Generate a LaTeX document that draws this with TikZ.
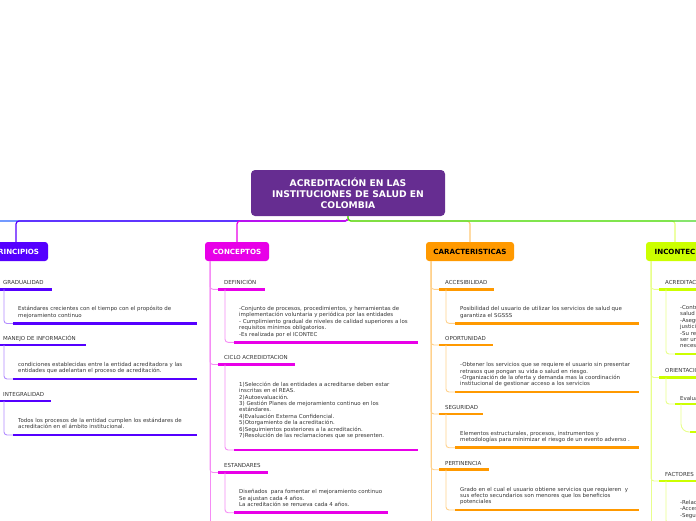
\documentclass[tikz,border=0pt]{standalone}
\usepackage{fontspec}
\setmainfont{DejaVu Sans}
\usetikzlibrary{positioning}

\definecolor{rootpurple}{RGB}{102,45,145}
\definecolor{princol}{RGB}{85,0,255}
\definecolor{concol}{RGB}{232,0,232}
\definecolor{caraccol}{RGB}{255,153,0}
\definecolor{inccol}{RGB}{204,255,0}
\definecolor{maingreen}{RGB}{70,215,30}
\definecolor{mainblue}{RGB}{40,100,255}
\definecolor{txtgray}{RGB}{51,51,51}

\newcommand{\descfont}{\fontsize{5.45}{6.4}\selectfont}

\tikzset{
  root/.style={fill=rootpurple,text=white,rounded corners=4pt,align=center,
    minimum width=194pt,minimum height=46pt,inner sep=0pt,outer sep=0pt,
    font=\fontsize{9.2}{11}\selectfont\bfseries},
  branch/.style={rounded corners=3pt,minimum width=64pt,minimum height=19pt,
    inner sep=0pt,outer sep=0pt,font=\fontsize{7.1}{8}\selectfont\bfseries},
  head/.style={anchor=base west,inner sep=0pt,text=txtgray,
    font=\fontsize{5.5}{6}\selectfont},
  desc/.style={anchor=base west,inner sep=0pt,text=txtgray,align=left,
    font=\descfont},
  bar/.style={line width=2.8pt},
  link/.style={line width=0.9pt,rounded corners=3pt},
  mainlink/.style={line width=1.2pt,rounded corners=3pt},
}

% #1 name, #2 branch node, #3 colour, #4 y of underline, #5 its length, #6 label
\newcommand{\subtopic}[6]{%
  \path (#2.south west) ++(13,0) coordinate (#1-x);
  \coordinate (#1-a) at (#1-x |- 0,#4);
  \draw[link,#3!45!white] ([xshift=5pt]#2.south west) |- (#1-a);
  \draw[bar,#3] (#1-a) -- ++(#5,0);
  \path (#1-a) ++(6,-4.6) node[head] (#1) {#6};
}
% #1 subtopic, #2 colour, #3 y of underline, #4 its length, #5 text
\newcommand{\subdesc}[5]{%
  \path (#1-a) ++(16,0) coordinate (#1-dx);
  \coordinate (#1-b) at (#1-dx |- 0,#3);
  \draw[link,#2!45!white] ([xshift=7pt]#1-a) |- (#1-b);
  \draw[bar,#2] (#1-b) -- ++(#4,0);
  \path (#1-b) ++(5,-6.2) node[desc] (#1-d) {#5};
}

\begin{document}
\begin{tikzpicture}[x=1pt,y=-1pt]
\useasboundingbox (0,0) rectangle (696,520);
\clip (0,0) rectangle (696,520);

% central topic
\node[root] (root) at (348,193) {ACREDITACIÓN EN LAS\\INSTITUCIONES DE SALUD EN\\COLOMBIA};

% main branches
\node[branch,fill=princol,text=white] (princ) at (16,251.5) {PRINCIPIOS};
\node[branch,fill=concol,text=white] (conc) at (237,251.5) {CONCEPTOS};
\node[branch,fill=caraccol,minimum width=88pt] (carac) at (470,251.5) {CARACTERISTICAS};
\node[branch,fill=inccol,minimum width=58pt] (incon) at (675,251.5) {INCONTEC};
\coordinate (offleft) at (-60,242);
\coordinate (offright) at (760,242);

\draw[mainlink,mainblue] (root.south) -- ++(0,5) -| (offleft);
\draw[mainlink,princol] (root.south) -- ++(0,5) -| (princ.north);
\draw[mainlink,concol] (root.south) -- ++(0,5) -| (conc.north);
\draw[mainlink,caraccol!55!white] (root.south) -- ++(0,5) -| (carac.north);
\draw[mainlink,inccol!55!white] (root.south) -- ++(0,5) -| (incon.north);
\draw[mainlink,maingreen] (root.south) -- ++(0,5) -| (offright);

% PRINCIPIOS
\coordinate (princ-end) at (-11,540);
\draw[link,princol!45!white] ([xshift=5pt]princ.south west) -- (princ-end);
\subtopic{grad}{princ}{princol}{289.3}{55}{GRADUALIDAD}
\subdesc{grad}{princol}{323.5}{184}{Estándares crecientes con el tiempo con el propósito de\\mejoramiento continuo}
\subtopic{manejo}{princ}{princol}{345}{89}{MANEJO DE INFORMACIÓN}
\subdesc{manejo}{princol}{379}{184}{condiciones establecidas entre la entidad acreditadora y las\\entidades que adelantan el proceso de acreditación.}
\subtopic{integ}{princ}{princol}{401}{54}{INTEGRALIDAD}
\subdesc{integ}{princol}{435}{184}{Todos los procesos de la entidad cumplen los estándares de\\acreditación en el ámbito institucional.}

% CONCEPTOS
\coordinate (conc-end) at (210,540);
\draw[link,concol!45!white] ([xshift=5pt]conc.south west) -- (conc-end);
\subtopic{def}{conc}{concol}{289.3}{47}{DEFINICIÓN}
\subdesc{def}{concol}{342.3}{184}{-Conjunto de procesos, procedimientos, y herramientas de\\implementación voluntaria y periódica por las entidades\\- Cumplimiento gradual de niveles de calidad superiores a los\\requisitos mínimos obligatorios.\\-Es realizada por el ICONTEC}
\subtopic{ciclo}{conc}{concol}{364.5}{77}{CICLO ACREDIDTACION}
\subdesc{ciclo}{concol}{450}{184}{1)Selección de las entidades a acreditarse deben estar\\inscritas en el REAS.\\2)Autoevaluación.\\3) Gestión Planes de mejoramiento continuo en los\\estándares.\\4)Evaluación Externa Confidencial.\\5)Otorgamiento de la acreditación.\\6)Seguimientos posteriores a la acreditación.\\7)Resolución de las reclamaciones que se presenten.\\\mbox{}}
\subtopic{estand}{conc}{concol}{472.5}{50}{ESTANDARES}
\subdesc{estand}{concol}{512.7}{154}{Diseñados~ para fomentar el mejoramiento continuo\\Se ajustan cada 4 años.\\La acreditación se renueva cada 4 años.}

% CARACTERISTICAS
\coordinate (carac-end) at (431,540);
\draw[link,caraccol!45!white] ([xshift=5pt]carac.south west) -- (carac-end);
\subtopic{acces}{carac}{caraccol}{289.3}{55}{ACCESIBILIDAD}
\subdesc{acces}{caraccol}{323.3}{184}{Posibilidad del usuario de utilizar los servicios de salud que\\garantiza el SGSSS}
\subtopic{oport}{carac}{caraccol}{345}{54}{OPORTUNIDAD}
\subdesc{oport}{caraccol}{392}{184}{-Obtener los servicios que se requiere el usuario sin presentar\\retrasos que pongan su vida o salud en riesgo.\\-Organización de la oferta y demanda mas la coordinación\\institucional de gestionar acceso a los servicios}
\subtopic{segur}{carac}{caraccol}{414}{44}{SEGURIDAD}
\subdesc{segur}{caraccol}{447.7}{184}{Elementos estructurales, procesos, instrumentos y\\metodologías para minimizar el riesgo de un evento adverso .}
\subtopic{pert}{carac}{caraccol}{469.7}{50}{PERTINENCIA}
\subdesc{pert}{caraccol}{510}{184}{Grado en el cual el usuario obtiene servicios que requieren~ y\\sus efecto secundarios son menores que los beneficios\\potenciales}

% INCONTEC
\coordinate (incon-end) at (651,540);
\draw[link,inccol!45!white] ([xshift=5pt]incon.south west) -- (incon-end);
\subtopic{acred}{incon}{inccol}{289.3}{100}{ACREDITACIÓN}
\subdesc{acred}{inccol}{354}{100}{-Contribuir\\salud\\-Asegurar\\justicia\\-Su resultado\\ser un\\necesidades}
\subtopic{orient}{incon}{inccol}{377.5}{100}{ORIENTACIÓN}
\coordinate (eval-a) at (675,404);
\draw[link,inccol!45!white] ([xshift=7pt]orient-a) |- (eval-a);
\draw[bar,inccol] (eval-a) -- ++(100,0);
\path (eval-a) ++(5,-4) node[head,font=\descfont] (eval) {Evaluación};
\coordinate (evalsub-a) at (690,432);
\draw[link,inccol!45!white,rounded corners=8pt] ([xshift=6pt]eval-a) |- (evalsub-a);
\draw[bar,inccol] (evalsub-a) -- ++(100,0);
\subtopic{fact}{incon}{inccol}{481}{100}{FACTORES}
\subdesc{fact}{inccol}{523.3}{100}{-Relación\\-Accesibilidad\\-Seguridad}
\end{tikzpicture}
\end{document}
